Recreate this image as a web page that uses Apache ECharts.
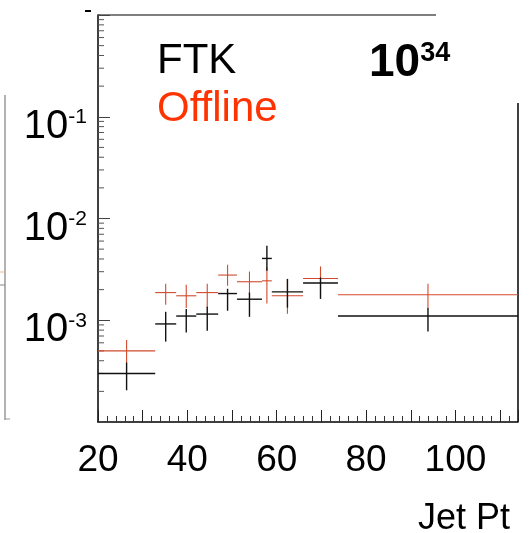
<!DOCTYPE html>
<html>
<head>
<meta charset="utf-8">
<script src="https://cdn.jsdelivr.net/npm/echarts@6/dist/echarts.min.js"></script>
<style>html,body{margin:0;padding:0;background:#fff;}#c{width:529px;height:533px;}</style>
</head>
<body>
<div id="c"></div>
<script>
// ---- data ----
const binLo = [20, 32.8, 37.5, 42.0, 46.9, 51.1, 56.7, 58.9, 65.9, 73.7];
const binHi = [32.8, 37.5, 42.0, 46.9, 51.1, 56.7, 58.9, 65.9, 73.7, 114];
const ftkVal   = [3.0e-4, 9.2e-4, 1.10e-3, 1.15e-3, 1.83e-3, 1.61e-3, 4.05e-3, 1.90e-3, 2.32e-3, 1.10e-3];
const ftkErrHi = [3.84e-4, 1.21e-3, 1.29e-3, 1.36e-3, 2.04e-3, 1.87e-3, 5.40e-3, 2.55e-3, 2.63e-3, 1.33e-3];
const ftkErrLo = [2.05e-4, 6.17e-4, 7.57e-4, 7.87e-4, 1.24e-3, 1.08e-3, 3.06e-3, 1.33e-3, 1.62e-3, 7.74e-4];
const offVal   = [5.0e-4, 1.87e-3, 1.74e-3, 1.87e-3, 2.78e-3, 2.39e-3, 2.44e-3, 1.74e-3, 2.57e-3, 1.78e-3];
const offErrHi = [6.4e-4, 2.28e-3, 2.23e-3, 2.28e-3, 3.51e-3, 3.01e-3, 3.30e-3, 2.55e-3, 3.38e-3, 2.28e-3];
const offErrLo = [3.8e-4, 1.42e-3, 1.32e-3, 1.32e-3, 2.18e-3, 1.82e-3, 1.46e-3, 1.16e-3, 1.74e-3, 1.33e-3];
const xTickLabels = [20, 40, 60, 80, 100];
const yTickExps = [-1, -2, -3];
const seriesNames = ['FTK', 'Offline'];
const xTitle = 'Jet Pt';
const lumiBase = '10', lumiExp = '34';

const FONT = 'Liberation Sans, Arial, sans-serif';

function rows(val, lo, hi) {
  return binLo.map((b, i) => [b, binHi[i], val[i], lo[i], hi[i]]);
}
function histRenderer(color, width) {
  return function (params, api) {
    const l = api.value(0), h = api.value(1), v = api.value(2), el = api.value(3), eh = api.value(4);
    const xc = (l + h) / 2;
    const a = api.coord([l, v]), b = api.coord([h, v]);
    const c = api.coord([xc, el]), d = api.coord([xc, eh]);
    return {
      type: 'group',
      children: [
        { type: 'line', shape: { x1: a[0], y1: a[1], x2: b[0], y2: b[1] }, style: { stroke: color, lineWidth: width } },
        { type: 'line', shape: { x1: c[0], y1: c[1], x2: d[0], y2: d[1] }, style: { stroke: color, lineWidth: width } }
      ]
    };
  };
}
// log minor ticks (2..9 per decade)
const yMinor = [];
for (let e = -4; e < 0; e++) for (let m = 2; m <= 9; m++) yMinor.push([m * Math.pow(10, e)]);

const chart = echarts.init(document.getElementById('c'), null, { renderer: 'canvas' });
chart.setOption({
  backgroundColor: '#fff',
  animation: false,
  title: [
    { text: seriesNames[0], left: 157, top: 40, padding: 0,
      textStyle: { fontSize: 42, fontWeight: 'normal', color: '#000', fontFamily: FONT } },
    { text: seriesNames[1], left: 157, top: 88, padding: 0,
      textStyle: { fontSize: 42, fontWeight: 'normal', color: '#ff3300', fontFamily: FONT } },
    { text: '{a|' + lumiBase + '}{b|' + lumiExp + '}', left: 369, top: 40, padding: 0,
      textStyle: { rich: {
        a: { fontSize: 46, fontWeight: 'bold', color: '#000', fontFamily: FONT },
        b: { fontSize: 27, fontWeight: 'bold', color: '#000', fontFamily: FONT, verticalAlign: 'top' }
      } } }
  ],
  grid: { left: 98, right: 11, top: 15, bottom: 111, containLabel: false, outerBoundsMode: 'none' },
  xAxis: {
    type: 'value', min: 20, max: 114, interval: 10,
    name: xTitle, nameLocation: 'end', nameGap: -8,
    nameTextStyle: { fontSize: 36, color: '#000', fontFamily: FONT, align: 'right', verticalAlign: 'top', padding: [79, 0, 0, 0] },
    axisLine: { show: true, onZero: false, lineStyle: { color: '#000', width: 1.5 } },
    axisTick: { show: true, inside: true, length: 12, lineStyle: { color: '#222', width: 1 } },
    minorTick: { show: true, splitNumber: 5, length: 6, lineStyle: { color: '#333', width: 1 } },
    splitLine: { show: false },
    axisLabel: {
      margin: 20, fontSize: 37, color: '#000', fontFamily: FONT, showMaxLabel: false,
      formatter: v => (xTickLabels.indexOf(Math.round(v)) >= 0 ? String(Math.round(v)) : '')
    }
  },
  yAxis: {
    type: 'log', logBase: 10, min: 1e-4, max: 1,
    axisLine: { show: true, onZero: false, lineStyle: { color: '#000', width: 1.5 } },
    axisTick: { show: true, inside: true, length: 12, lineStyle: { color: '#444', width: 1 } },
    minorTick: { show: false },
    splitLine: { show: false },
    axisLabel: {
      margin: 11,
      padding: [20, 0, 0, 0],
      formatter: v => {
        const e = Math.round(Math.log10(v));
        return yTickExps.indexOf(e) >= 0 ? '{b|10}{s|' + e + '}' : '';
      },
      rich: {
        b: { fontSize: 40, color: '#000', fontFamily: FONT },
        s: { fontSize: 21, color: '#000', fontFamily: FONT, verticalAlign: 'top' }
      }
    }
  },
  series: [
    { type: 'custom', name: 'yMinorTicks', silent: true, data: yMinor,
      encode: { y: 0 },
      renderItem: function (params, api) {
        const p = api.coord([20, api.value(0)]);
        return { type: 'line', shape: { x1: p[0], y1: p[1], x2: p[0] + 6, y2: p[1] }, style: { stroke: '#555', lineWidth: 1 } };
      } },
    { type: 'custom', name: seriesNames[1], clip: true, data: rows(offVal, offErrLo, offErrHi),
      encode: { x: [0, 1], y: [2, 3, 4] }, renderItem: histRenderer('#d24a2c', 1.1) },
    { type: 'custom', name: seriesNames[0], clip: true, data: rows(ftkVal, ftkErrLo, ftkErrHi),
      encode: { x: [0, 1], y: [2, 3, 4] }, renderItem: histRenderer('#111', 1.4) }
  ],
  graphic: [
    { type: 'line', silent: true, shape: { x1: 98, y1: 15, x2: 436, y2: 15 }, style: { stroke: '#555', lineWidth: 1.5 } },
    { type: 'line', silent: true, shape: { x1: 518, y1: 103, x2: 518, y2: 422 }, style: { stroke: '#000', lineWidth: 1.5 } },
    { type: 'line', silent: true, shape: { x1: 85, y1: 11, x2: 91, y2: 11 }, style: { stroke: '#000', lineWidth: 2 } },
    { type: 'line', silent: true, shape: { x1: 5, y1: 95, x2: 5, y2: 420 }, style: { stroke: '#999', lineWidth: 1.5 } },
    { type: 'line', silent: true, shape: { x1: 5, y1: 419, x2: 10, y2: 419 }, style: { stroke: '#999', lineWidth: 1 } },
    { type: 'line', silent: true, shape: { x1: 0, y1: 272, x2: 5, y2: 272 }, style: { stroke: '#f0b0a0', lineWidth: 1 } },
    { type: 'line', silent: true, shape: { x1: 0, y1: 285, x2: 5, y2: 285 }, style: { stroke: '#888', lineWidth: 1 } }
  ]
});
</script>
</body>
</html>
